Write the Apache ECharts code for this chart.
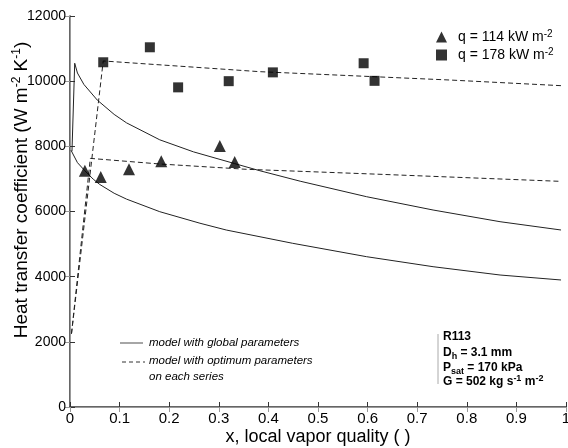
<!DOCTYPE html>
<html><head><meta charset="utf-8">
<script src="https://cdn.jsdelivr.net/npm/echarts@6/dist/echarts.min.js"></script>
<style>html,body{margin:0;padding:0;background:#fff}#c{width:568px;height:448px}</style>
</head><body><div id="c"></div>
<script>
// Measured points
const q114X = [0.030, 0.062, 0.119, 0.184, 0.302, 0.332];
const q114Y = [7250, 7060, 7300, 7540, 8010, 7520];
const q178X = [0.067, 0.161, 0.218, 0.320, 0.409, 0.592, 0.614];
const q178Y = [10580, 11040, 9810, 10000, 10270, 10550, 10010];

// Model with global parameters (solid curves)
const globalHighX = [0.004, 0.0095, 0.015, 0.028, 0.055, 0.089, 0.114, 0.181, 0.249, 0.332, 0.383, 0.464, 0.598, 0.732, 0.867, 0.99];
const globalHighY = [7850, 10550, 10250, 9900, 9420, 8980, 8720, 8200, 7830, 7470, 7250, 6930, 6454, 6046, 5687, 5432];
const globalLowX = [0.002, 0.015, 0.030, 0.047, 0.060, 0.089, 0.114, 0.181, 0.262, 0.315, 0.449, 0.598, 0.732, 0.867, 0.99];
const globalLowY = [7880, 7500, 7250, 6990, 6830, 6560, 6380, 5994, 5640, 5432, 5024, 4613, 4306, 4051, 3898];

// Model with optimum parameters on each series (dashed)
const optLowX = [0.003, 0.041, 0.181, 0.356, 0.625, 0.99];
const optLowY = [2250, 7630, 7458, 7295, 7142, 6925];
const optHighX = [0.003, 0.067, 0.383, 0.766, 0.99];
const optHighY = [2250, 10620, 10291, 10035, 9862];

// Axis ticks
const xTicks = {min: 0, max: 1, step: 0.1};
const yTicks = {min: 0, max: 12000, step: 2000};

const zip = (xs, ys) => xs.map((x, i) => [x, ys[i]]);
const FONT = 'Liberation Sans, Arial, sans-serif';

const chart = echarts.init(document.getElementById('c'));
const lineSeries = (name, xs, ys, dashed) => ({
  name, type: 'line', data: zip(xs, ys), showSymbol: false, symbol: 'none',
  lineStyle: {color: '#222', width: 1, type: dashed ? [5, 3] : 'solid'},
  silent: true, z: 2
});

chart.setOption({
  animation: false,
  grid: {left: 70, right: 2, top: 16, bottom: 41, containLabel: false, outerBoundsMode: 'none'},
  xAxis: [{
    type: 'value', min: xTicks.min, max: xTicks.max, interval: xTicks.step, position: 'bottom',
    axisLine: {lineStyle: {color: '#333', width: 1.5}},
    axisTick: {inside: true, length: 5, lineStyle: {color: '#333'}},
    axisLabel: {fontSize: 15, color: '#000', fontFamily: FONT, margin: 4, formatter: v => String(v)},
    splitLine: {show: false}
  }, {
    type: 'value', min: xTicks.min, max: xTicks.max, interval: xTicks.step, position: 'top',
    axisLine: {lineStyle: {color: '#999', width: 1}},
    axisTick: {inside: true, length: 5, lineStyle: {color: '#999'}},
    axisLabel: {show: false}, splitLine: {show: false}
  }],
  yAxis: [{
    type: 'value', min: yTicks.min, max: yTicks.max, interval: yTicks.step, position: 'left',
    axisLine: {show: true, lineStyle: {color: '#333', width: 1.5}},
    axisTick: {show: true, inside: true, length: 5, lineStyle: {color: '#333'}},
    axisLabel: {fontSize: 14, color: '#000', fontFamily: FONT, margin: 4, formatter: v => String(v)},
    splitLine: {show: false}
  }, {
    type: 'value', min: yTicks.min, max: yTicks.max, interval: yTicks.step, position: 'right',
    axisLine: {show: true, lineStyle: {color: '#999', width: 1}},
    axisTick: {show: true, inside: true, length: 5, lineStyle: {color: '#999'}},
    axisLabel: {show: false}, splitLine: {show: false}
  }],
  legend: {
    data: [{name: 'q = 114 kW m-2', icon: 'triangle'}, {name: 'q = 178 kW m-2', icon: 'rect'}],
    orient: 'vertical', left: 431, top: 24, itemWidth: 11, itemHeight: 11, itemGap: 3,
    selectedMode: false,
    formatter: n => '{a|' + n.replace(' m-2', ' m') + '}{s|-2}',
    textStyle: {
      padding: [0, 0, 0, 6],
      rich: {
        a: {fontSize: 14, color: '#000', fontFamily: FONT, lineHeight: 16},
        s: {fontSize: 10, color: '#000', fontFamily: FONT, verticalAlign: 'top'}
      }
    }
  },
  series: [
    lineSeries('model with global parameters', globalHighX, globalHighY, false),
    lineSeries('model with global parameters', globalLowX, globalLowY, false),
    lineSeries('model with optimum parameters on each series', optLowX, optLowY, true),
    lineSeries('model with optimum parameters on each series', optHighX, optHighY, true),
    {name: 'q = 114 kW m-2', type: 'scatter', data: zip(q114X, q114Y), symbol: 'triangle', symbolSize: 12,
     itemStyle: {color: '#000'}, z: 3},
    {name: 'q = 178 kW m-2', type: 'scatter', data: zip(q178X, q178Y), symbol: 'rect', symbolSize: 10,
     itemStyle: {color: '#000'}, z: 3}
  ],
  graphic: [
    // y axis title
    {type: 'text', x: 22, y: 190, rotation: Math.PI / 2, silent: true,
     style: {
       text: '{a|Heat transfer coefficient (W m}{s|-2}{a| K}{s|-1}{a|)}',
       align: 'center', verticalAlign: 'middle', textAlign: 'center', textVerticalAlign: 'middle',
       rich: {
         a: {fontSize: 19, fill: '#000', fontFamily: FONT, lineHeight: 22},
         s: {fontSize: 12, fill: '#000', fontFamily: FONT, verticalAlign: 'top'}
       }
     }},
    // x axis title
    {type: 'text', x: 318, y: 437, silent: true,
     style: {text: 'x, local vapor quality ( )', fontSize: 18, fontFamily: FONT, fill: '#000',
             align: 'center', verticalAlign: 'middle', textAlign: 'center', textVerticalAlign: 'middle'}},
    // lower-left key
    {type: 'line', silent: true, shape: {x1: 120, y1: 343, x2: 143, y2: 343}, style: {stroke: '#888', lineWidth: 1.5}},
    {type: 'line', silent: true, shape: {x1: 122, y1: 362, x2: 145, y2: 362}, style: {stroke: '#333', lineWidth: 1, lineDash: [4, 3]}},
    {type: 'text', x: 149, y: 343, silent: true,
     style: {text: 'model with global parameters', fontSize: 11.5, fontStyle: 'italic', fontFamily: FONT, fill: '#000',
             verticalAlign: 'middle', textVerticalAlign: 'middle'}},
    {type: 'text', x: 149, y: 361, silent: true,
     style: {text: 'model with optimum parameters', fontSize: 11.5, fontStyle: 'italic', fontFamily: FONT, fill: '#000',
             verticalAlign: 'middle', textVerticalAlign: 'middle'}},
    {type: 'text', x: 149, y: 377, silent: true,
     style: {text: 'on each series', fontSize: 11.5, fontStyle: 'italic', fontFamily: FONT, fill: '#000',
             verticalAlign: 'middle', textVerticalAlign: 'middle'}},
    // conditions block
    {type: 'line', silent: true, shape: {x1: 438, y1: 334, x2: 438, y2: 384}, style: {stroke: '#aaa', lineWidth: 1}},
    {type: 'text', x: 443, y: 337, silent: true,
     style: {text: 'R113', fontSize: 12, fontWeight: 'bold', fontFamily: FONT, fill: '#000',
             verticalAlign: 'middle', textVerticalAlign: 'middle'}},
    {type: 'text', x: 443, y: 353, silent: true,
     style: {text: '{a|D}{b|h}{a| = 3.1 mm}', verticalAlign: 'middle', textVerticalAlign: 'middle',
             rich: {a: {fontSize: 12, fontWeight: 'bold', fontFamily: FONT, fill: '#000'},
                    b: {fontSize: 9, fontWeight: 'bold', fontFamily: FONT, fill: '#000', padding: [8, 0, 0, 0]}}}},
    {type: 'text', x: 443, y: 368, silent: true,
     style: {text: '{a|P}{b|sat}{a| = 170 kPa}', verticalAlign: 'middle', textVerticalAlign: 'middle',
             rich: {a: {fontSize: 12, fontWeight: 'bold', fontFamily: FONT, fill: '#000'},
                    b: {fontSize: 9, fontWeight: 'bold', fontFamily: FONT, fill: '#000', padding: [8, 0, 0, 0]}}}},
    {type: 'text', x: 443, y: 382, silent: true,
     style: {text: '{a|G = 502 kg s}{s|-1}{a| m}{s|-2}', verticalAlign: 'middle', textVerticalAlign: 'middle',
             rich: {a: {fontSize: 12, fontWeight: 'bold', fontFamily: FONT, fill: '#000', lineHeight: 15},
                    s: {fontSize: 9, fontWeight: 'bold', fontFamily: FONT, fill: '#000', verticalAlign: 'top'}}}}
  ]
});
</script></body></html>
